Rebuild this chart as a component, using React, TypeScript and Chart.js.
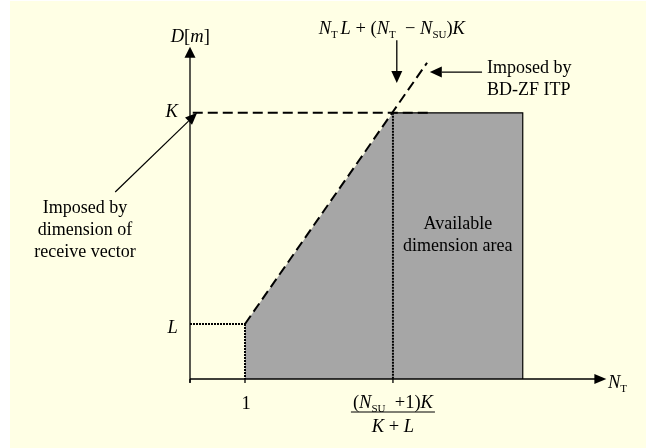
import React, { useEffect, useRef } from "react";
import { Chart, registerables } from "chart.js";

Chart.register(...registerables);

// Scale extents: x is N_T, y is D[m]
const X_MIN = 0;
const X_MAX = 7.6;
const Y_MIN = 0;
const Y_MAX = 6.0;
const X_AXIS_END = 7.57;
const Y_AXIS_END = 6.04;

// Characteristic levels of the diagram
const L_LEVEL = 1.0;
const K_LEVEL = 4.84;
const N_ONE = 1;
const N_CORNER = 3.69; // (N_SU + 1)K / (K + L)
const N_AREA_END = 6.05;

// Available dimension area (upper boundary, filled down to D = 0)
const areaX = [N_ONE, N_CORNER, N_AREA_END];
const areaY = [L_LEVEL, K_LEVEL, K_LEVEL];

// Solid outline on the top and right of the area
const edgeX = [N_CORNER, N_AREA_END, N_AREA_END];
const edgeY = [K_LEVEL, K_LEVEL, 0];

// Dashed bound imposed by the receive vector dimension (D = K)
const kBoundX = [0.05, 4.33];
const kBoundY = [K_LEVEL, K_LEVEL];

// Dashed bound imposed by BD-ZF ITP
const itpBoundX = [N_ONE, 4.31];
const itpBoundY = [L_LEVEL, 5.75];

// Dotted guide lines
const guideLX = [0, N_ONE];
const guideLY = [L_LEVEL, L_LEVEL];
const guideOneX = [N_ONE, N_ONE];
const guideOneY = [L_LEVEL, 0];
const guideCornerX = [N_CORNER, N_CORNER];
const guideCornerY = [K_LEVEL, 0];

// Axis lines
const yAxisX = [0, 0];
const yAxisY = [-0.07, Y_AXIS_END - 0.18];
const xAxisX = [0, X_AXIS_END - 0.2];
const xAxisY = [0, 0];

// Tick positions along the N_T axis
const xTicks = [0, N_ONE, N_CORNER];

const FONT = '"Liberation Serif", "Times New Roman", serif';
const FS = 18;
const MATH = 18.5;
const SUB = 11;

type Seg = { t: string; k: "i" | "r" | "s" };

const pts = (xs: number[], ys: number[]) => xs.map((x, i) => ({ x, y: ys[i] }));

function segFont(k: Seg["k"]) {
  if (k === "i") return `italic ${MATH}px ${FONT}`;
  if (k === "s") return `${SUB}px ${FONT}`;
  return `${MATH}px ${FONT}`;
}

function richWidth(ctx: CanvasRenderingContext2D, segs: Seg[]) {
  let w = 0;
  for (const s of segs) {
    ctx.font = segFont(s.k);
    w += ctx.measureText(s.t).width;
  }
  return w;
}

function drawRich(
  ctx: CanvasRenderingContext2D,
  segs: Seg[],
  x: number,
  y: number,
  align: "left" | "center" | "right"
) {
  const w = richWidth(ctx, segs);
  let cx = align === "center" ? x - w / 2 : align === "right" ? x - w : x;
  ctx.textAlign = "left";
  ctx.textBaseline = "alphabetic";
  for (const s of segs) {
    ctx.font = segFont(s.k);
    ctx.fillText(s.t, cx, s.k === "s" ? y + 4 : y);
    cx += ctx.measureText(s.t).width;
  }
}

function arrow(
  ctx: CanvasRenderingContext2D,
  x1: number,
  y1: number,
  x2: number,
  y2: number,
  len: number,
  half: number,
  lw: number
) {
  const a = Math.atan2(y2 - y1, x2 - x1);
  const bx = x2 - Math.cos(a) * len;
  const by = y2 - Math.sin(a) * len;
  ctx.lineWidth = lw;
  ctx.beginPath();
  ctx.moveTo(x1, y1);
  ctx.lineTo(bx, by);
  ctx.stroke();
  ctx.beginPath();
  ctx.moveTo(x2, y2);
  ctx.lineTo(bx + Math.sin(a) * half, by - Math.cos(a) * half);
  ctx.lineTo(bx - Math.sin(a) * half, by + Math.cos(a) * half);
  ctx.closePath();
  ctx.fill();
}

const backgroundPlugin = {
  id: "paper",
  beforeDraw(chart: Chart) {
    const ctx = chart.ctx;
    ctx.save();
    ctx.fillStyle = "#FFFFE5";
    ctx.fillRect(10, 1, 636, 447);
    ctx.restore();
  },
};

const labelPlugin = {
  id: "labels",
  afterDatasetsDraw(chart: Chart) {
    const ctx = chart.ctx;
    const xs = chart.scales.x;
    const ys = chart.scales.y;
    const X = (v: number) => xs.getPixelForValue(v);
    const Y = (v: number) => ys.getPixelForValue(v);
    ctx.save();
    ctx.fillStyle = "#000";
    ctx.strokeStyle = "#000";

    // axis arrowheads
    arrow(ctx, X(0), Y(Y_AXIS_END - 0.2), X(0), Y(Y_AXIS_END), 11, 5.5, 1.3);
    arrow(ctx, X(X_AXIS_END - 0.22), Y(0), X(X_AXIS_END), Y(0), 12, 5, 1.3);

    // tick marks below the N_T axis
    ctx.lineWidth = 1.3;
    for (const t of xTicks) {
      ctx.beginPath();
      ctx.moveTo(X(t), Y(0));
      ctx.lineTo(X(t), Y(0) + 4);
      ctx.stroke();
    }

    // axis titles and level labels
    drawRich(ctx, [{ t: "D", k: "i" }, { t: "[", k: "r" }, { t: "m", k: "i" }, { t: "]", k: "r" }], X(-0.35), Y(6.13), "left");
    drawRich(ctx, [{ t: "K", k: "i" }], X(-0.22), Y(4.76), "right");
    drawRich(ctx, [{ t: "L", k: "i" }], X(-0.22), Y(0.84), "right");
    drawRich(ctx, [{ t: "N", k: "i" }, { t: "T", k: "s" }], X(7.6), Y(-0.164), "left");
    drawRich(ctx, [{ t: "1", k: "r" }], X(N_ONE) + 1, Y(-0.545), "center");

    // fraction label under the corner
    const num: Seg[] = [
      { t: "(", k: "r" }, { t: "N", k: "i" }, { t: "SU", k: "s" },
      { t: "  +1)", k: "r" }, { t: "K", k: "i" },
    ];
    const den: Seg[] = [{ t: "K", k: "i" }, { t: " + ", k: "r" }, { t: "L", k: "i" }];
    drawRich(ctx, num, X(N_CORNER), Y(-0.527), "center");
    drawRich(ctx, den, X(N_CORNER), Y(-0.964), "center");
    const nw = richWidth(ctx, num) + 4;
    ctx.lineWidth = 1;
    ctx.beginPath();
    ctx.moveTo(X(N_CORNER) - nw / 2, Y(-0.6));
    ctx.lineTo(X(N_CORNER) + nw / 2, Y(-0.6));
    ctx.stroke();

    // bound formula at the top with its arrow
    const top: Seg[] = [
      { t: "N", k: "i" }, { t: "T", k: "s" }, { t: " ", k: "s" }, { t: "L", k: "i" },
      { t: " + (", k: "r" }, { t: "N", k: "i" }, { t: "T", k: "s" },
      { t: "  − ", k: "r" }, { t: "N", k: "i" }, { t: "SU", k: "s" },
      { t: ")", k: "r" }, { t: "K", k: "i" },
    ];
    drawRich(ctx, top, X(3.67), Y(6.27), "center");
    arrow(ctx, X(3.76), Y(6.16), X(3.76), Y(5.38), 12, 5.5, 1.3);

    // BD-ZF ITP note
    arrow(ctx, X(5.31), Y(5.58), X(4.36), Y(5.58), 12, 5.5, 1.3);
    ctx.font = `${FS}px ${FONT}`;
    ctx.textAlign = "left";
    ctx.fillText("Imposed by", X(5.4), Y(5.56));
    ctx.fillText("BD-ZF ITP", X(5.4), Y(5.16));

    // receive vector note
    arrow(ctx, X(-1.36), Y(3.4), X(0.13), Y(4.84), 12, 5, 1.2);
    ctx.textAlign = "center";
    ctx.fillText("Imposed by", X(-1.91), Y(3.02));
    ctx.fillText("dimension of", X(-1.91), Y(2.62));
    ctx.fillText("receive vector", X(-1.91), Y(2.22));

    // area caption
    ctx.fillText("Available", X(4.87), Y(2.73));
    ctx.fillText("dimension area", X(4.87), Y(2.33));

    ctx.restore();
  },
};

export default function App() {
  const ref = useRef<HTMLCanvasElement | null>(null);

  useEffect(() => {
    document.body.style.margin = "0";
    const canvas = ref.current;
    if (!canvas) return;

    const line = (
      xs: number[],
      ys: number[],
      width: number,
      dash: number[],
      order: number
    ) => ({
      data: pts(xs, ys),
      showLine: true,
      borderColor: "#000",
      borderWidth: width,
      borderDash: dash,
      pointRadius: 0,
      fill: false,
      tension: 0,
      clip: false as const,
      order,
    });

    const chart = new Chart(canvas, {
      type: "scatter",
      data: {
        datasets: [
          {
            data: pts(areaX, areaY),
            showLine: true,
            borderWidth: 0,
            borderColor: "rgba(0,0,0,0)",
            backgroundColor: "#A6A6A6",
            fill: "origin",
            pointRadius: 0,
            tension: 0,
            clip: false as const,
            order: 10,
          },
          line(edgeX, edgeY, 1.2, [], 5),
          line(yAxisX, yAxisY, 1.3, [], 4),
          line(xAxisX, xAxisY, 1.3, [], 4),
          line(guideLX, guideLY, 2, [2, 1], 3),
          line(guideOneX, guideOneY, 2, [2, 1], 3),
          line(guideCornerX, guideCornerY, 2, [2, 1], 3),
          line(kBoundX, kBoundY, 2, [10, 5], 2),
          line(itpBoundX, itpBoundY, 2, [10, 5], 2),
        ],
      },
      options: {
        animation: false,
        responsive: false,
        devicePixelRatio: 1,
        events: [],
        layout: { padding: { left: 190, right: 41, top: 49, bottom: 69 } },
        scales: {
          x: { type: "linear", min: X_MIN, max: X_MAX, display: false },
          y: { type: "linear", min: Y_MIN, max: Y_MAX, display: false },
        },
        plugins: {
          legend: { display: false },
          tooltip: { enabled: false },
        },
      },
      plugins: [backgroundPlugin, labelPlugin],
    });
    return () => chart.destroy();
  }, []);

  return (
    <div style={{ width: 649, height: 448 }}>
      <canvas ref={ref} width={649} height={448} style={{ display: "block" }} />
    </div>
  );
}
